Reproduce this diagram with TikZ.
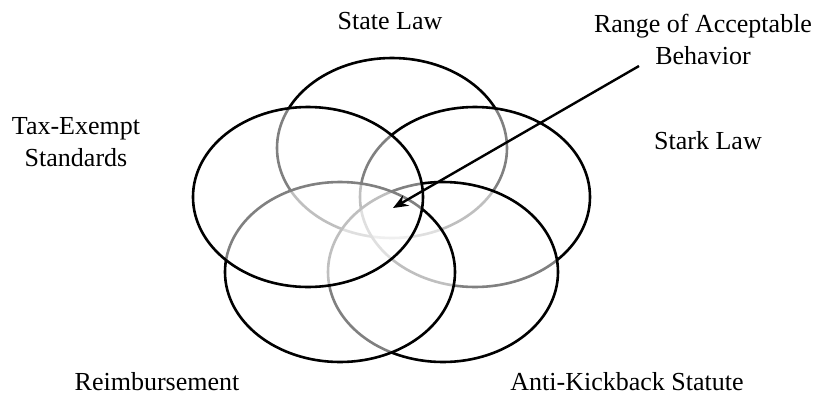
\documentclass[tikz,border=0pt]{standalone}
\usepackage{fontspec}
\setmainfont{Liberation Serif}
\usetikzlibrary{shapes.geometric,arrows.meta}

\begin{document}
\begin{tikzpicture}[x=1pt, y=-1pt,
  law/.style={ellipse, draw=black, line width=2.6pt, fill=white, fill opacity=0.5,
    minimum width=230pt, minimum height=180pt, inner sep=0pt},
  lbl/.style={font=\fontsize{26}{32}\selectfont, anchor=base, inner sep=0pt}]
  \useasboundingbox (0,0) rectangle (820,397);
  % lowest ellipse first, each white veil greys the lines under it
  \node[law] (state) at (392,148) {};
  \node[law] (stark) at (475,197) {};
  \node[law] (akick) at (443,272) {};
  \node[law] (reimb) at (340,272) {};
  \node[law] (taxex) at (308,197) {};

  \node[lbl] (state-l) at (390,29) {State Law};
  \node[lbl] (stark-l) at (708,149) {Stark Law};
  \node[lbl, align=center] (taxex-l) at (76,166) {Tax-Exempt\\Standards};
  \node[lbl] (reimb-l) at (157,390) {Reimbursement};
  \node[lbl] (akick-l) at (627,390) {Anti-Kickback Statute};
  \node[lbl, align=center] (range-l) at (703,64) {Range of Acceptable\\Behavior};

  \coordinate (tail) at (639,66);
  \coordinate (core) at (393,208);
  \draw[line width=2.4pt, -{Stealth[length=15pt,width=12pt]}] (tail) -- (core);
\end{tikzpicture}
\end{document}
